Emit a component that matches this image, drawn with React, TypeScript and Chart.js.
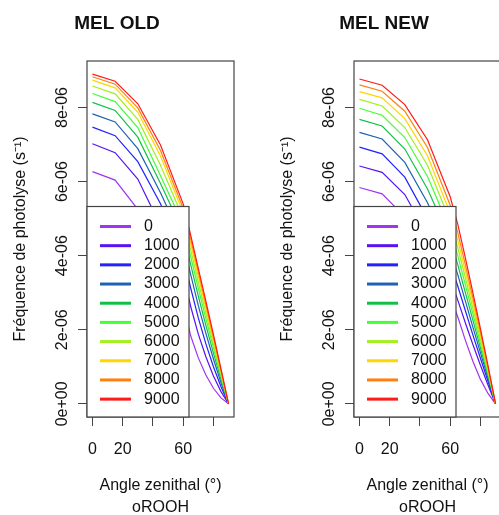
import React, { useEffect, useRef } from "react";
import { Chart, registerables } from "chart.js";

Chart.register(...registerables);

// ---------- data (photolysis frequency, units of 1e-6 s^-1) ----------
const UNIT = 1e-6;
const ANGLES = [0, 15, 30, 45, 60, 65, 70, 75, 80, 85, 90];
const ALTITUDES = ["0", "1000", "2000", "3000", "4000", "5000", "6000", "7000", "8000", "9000"];
const PANEL_TITLES = ["MEL OLD", "MEL NEW"];

const OLD_0 = [6.27, 6.04, 5.25, 4.1, 2.7, 1.83, 1.24, 0.78, 0.42, 0.16, 0];
const OLD_1000 = [7.02, 6.78, 6.07, 4.81, 3.55, 2.62, 1.88, 1.27, 0.75, 0.33, 0];
const OLD_2000 = [7.47, 7.24, 6.54, 5.4, 4.03, 3.12, 2.32, 1.62, 1.0, 0.46, 0];
const OLD_3000 = [7.83, 7.61, 6.89, 5.7, 4.37, 3.48, 2.65, 1.9, 1.21, 0.57, 0];
const OLD_4000 = [8.14, 7.92, 7.2, 5.95, 4.63, 3.75, 2.91, 2.12, 1.37, 0.66, 0];
const OLD_5000 = [8.38, 8.16, 7.46, 6.16, 4.84, 3.97, 3.12, 2.3, 1.51, 0.74, 0];
const OLD_6000 = [8.58, 8.37, 7.68, 6.44, 5.01, 4.15, 3.29, 2.45, 1.62, 0.8, 0];
const OLD_7000 = [8.74, 8.53, 7.87, 6.69, 5.16, 4.31, 3.44, 2.58, 1.72, 0.86, 0];
const OLD_8000 = [8.83, 8.63, 7.99, 6.84, 5.28, 4.44, 3.56, 2.68, 1.8, 0.9, 0];
const OLD_9000 = [8.9, 8.71, 8.1, 6.99, 5.4, 4.55, 3.66, 2.77, 1.87, 0.94, 0];

const NEW_0 = [5.84, 5.67, 5.05, 3.98, 2.9, 2.35, 1.72, 1.15, 0.66, 0.28, 0];
const NEW_1000 = [6.42, 6.25, 5.65, 4.55, 3.4, 2.8, 2.19, 1.6, 1.04, 0.51, 0];
const NEW_2000 = [6.93, 6.75, 6.12, 5.0, 3.81, 3.18, 2.52, 1.86, 1.23, 0.61, 0];
const NEW_3000 = [7.33, 7.15, 6.52, 5.43, 4.15, 3.49, 2.78, 2.07, 1.38, 0.69, 0];
const NEW_4000 = [7.68, 7.5, 6.88, 5.8, 4.44, 3.76, 3.01, 2.26, 1.51, 0.76, 0];
const NEW_5000 = [7.98, 7.79, 7.19, 6.14, 4.7, 4.0, 3.22, 2.43, 1.63, 0.82, 0];
const NEW_6000 = [8.22, 8.04, 7.46, 6.44, 4.93, 4.22, 3.41, 2.58, 1.74, 0.88, 0];
const NEW_7000 = [8.43, 8.26, 7.7, 6.7, 5.15, 4.42, 3.58, 2.72, 1.84, 0.93, 0];
const NEW_8000 = [8.61, 8.44, 7.9, 6.92, 5.36, 4.62, 3.76, 2.86, 1.94, 0.98, 0];
const NEW_9000 = [8.77, 8.6, 8.08, 7.13, 5.59, 4.85, 3.95, 3.0, 2.03, 1.03, 0];

const OLD_SERIES = [OLD_0, OLD_1000, OLD_2000, OLD_3000, OLD_4000, OLD_5000, OLD_6000, OLD_7000, OLD_8000, OLD_9000];
const NEW_SERIES = [NEW_0, NEW_1000, NEW_2000, NEW_3000, NEW_4000, NEW_5000, NEW_6000, NEW_7000, NEW_8000, NEW_9000];

const X_TICKS = [0, 20, 40, 60, 80];
const X_TICK_LABELS = ["0", "20", "", "60", ""];
const Y_TICKS = [0, 2e-6, 4e-6, 6e-6, 8e-6];
const Y_TICK_LABELS = ["0e+00", "2e-06", "4e-06", "6e-06", "8e-06"];

const X_TITLE = ["Angle zenithal (°)", "oROOH"];
const Y_TITLE = "Fréquence de photolyse (s⁻¹)";

// ---------- styles ----------
const COLORS = [
  "#A034F0",
  "#5512F2",
  "#2222FF",
  "#1F62B2",
  "#12C046",
  "#44FF33",
  "#A2F01E",
  "#FFD600",
  "#FF8010",
  "#FF1A1A",
];
const FONT = "'Liberation Sans', Arial, Helvetica, sans-serif";
const TEXT = "#111";
const AXIS = "#444";

// axis ranges extended by 4% like R
const allVals = [...OLD_SERIES, ...NEW_SERIES].flat();
const yMaxData = Math.max(...allVals) * UNIT;
const Y_MIN = -0.04 * yMaxData;
const Y_MAX = yMaxData * 1.04;
const xSpan = Math.max(...ANGLES) - Math.min(...ANGLES);
const X_MIN = Math.min(...ANGLES) - 0.04 * xSpan;
const X_MAX = Math.max(...ANGLES) + 0.04 * xSpan;

const frameAndLegend = {
  id: "frameAndLegend",
  afterDatasetsDraw(chart: any) {
    const { ctx, chartArea: a } = chart;
    ctx.save();
    ctx.strokeStyle = AXIS;
    ctx.lineWidth = 1.2;
    ctx.strokeRect(a.left, a.top, a.right - a.left, a.bottom - a.top);

    // inset legend (bottom-left)
    const lx = a.left;
    const lw = 102;
    const ly = a.bottom - 210.5;
    const lh = a.bottom - ly;
    ctx.fillStyle = "#fff";
    ctx.fillRect(lx, ly, lw, lh);
    ctx.strokeStyle = AXIS;
    ctx.lineWidth = 1.2;
    ctx.strokeRect(lx, ly, lw, lh);
    ctx.font = `16px ${FONT}`;
    ctx.textBaseline = "middle";
    ctx.textAlign = "left";
    chart.data.datasets.forEach((ds: any, i: number) => {
      const y = ly + 20 + i * 19.18;
      ctx.strokeStyle = ds.borderColor;
      ctx.lineWidth = 3;
      ctx.beginPath();
      ctx.moveTo(lx + 13, y);
      ctx.lineTo(lx + 44, y);
      ctx.stroke();
      ctx.fillStyle = TEXT;
      ctx.fillText(ds.label, lx + 57, y);
    });
    ctx.restore();
  },
};

function Panel({ title, series, left }: { title: string; series: number[][]; left: number }) {
  const ref = useRef<HTMLCanvasElement>(null);
  useEffect(() => {
    const chart = new Chart(ref.current as HTMLCanvasElement, {
      type: "line",
      data: {
        datasets: series.map((vals, i) => ({
          label: ALTITUDES[i],
          data: ANGLES.map((a, j) => ({ x: a, y: vals[j] * UNIT })),
          borderColor: COLORS[i],
          backgroundColor: COLORS[i],
          borderWidth: 1.2,
          pointRadius: 0,
          tension: 0,
          fill: false,
          order: series.length - 1 - i,
        })),
      },
      options: {
        responsive: false,
        animation: false,
        devicePixelRatio: 1,
        layout: { padding: { left: 0, right: 33, top: 0, bottom: 0 } },
        plugins: {
          legend: { display: false },
          tooltip: { enabled: false },
          title: {
            display: true,
            text: title,
            color: TEXT,
            font: { family: FONT, size: 19, weight: "bold", lineHeight: 1.2 },
            padding: { top: 12, bottom: 26.2 },
          },
        },
        scales: {
          x: {
            type: "linear",
            min: X_MIN,
            max: X_MAX,
            afterBuildTicks: (s: any) => {
              s.ticks = X_TICKS.map((v) => ({ value: v }));
            },
            afterFit: (s: any) => {
              s.height = 98;
            },
            grid: { drawOnChartArea: false, drawTicks: true, tickLength: 9, color: AXIS, tickColor: AXIS, lineWidth: 1 },
            border: { display: false },
            ticks: {
              autoSkip: false,
              minRotation: 0,
              maxRotation: 0,
              padding: 14.4,
              color: TEXT,
              font: { family: FONT, size: 16 },
              callback: (_v: any, i: number) => X_TICK_LABELS[i],
            },
            title: {
              display: true,
              text: X_TITLE,
              color: TEXT,
              font: { family: FONT, size: 16, lineHeight: 1.33 },
              padding: { top: 0, bottom: -2.8 },
            },
          },
          y: {
            type: "linear",
            min: Y_MIN,
            max: Y_MAX,
            afterBuildTicks: (s: any) => {
              s.ticks = Y_TICKS.map((v) => ({ value: v }));
            },
            afterFit: (s: any) => {
              s.width = 87;
            },
            grid: { drawOnChartArea: false, drawTicks: true, tickLength: 9, color: AXIS, tickColor: AXIS, lineWidth: 1 },
            border: { display: false },
            ticks: {
              autoSkip: false,
              minRotation: 90,
              maxRotation: 90,
              crossAlign: "center",
              padding: -7.25,
              color: TEXT,
              font: { family: FONT, size: 16 },
              callback: (_v: any, i: number) => Y_TICK_LABELS[i],
            },
            title: {
              display: true,
              text: Y_TITLE,
              color: TEXT,
              font: { family: FONT, size: 16, lineHeight: 1.2 },
              padding: { top: 11, bottom: 0 },
            },
          },
        },
      } as any,
      plugins: [frameAndLegend],
    });
    return () => chart.destroy();
  }, [title, series]);
  return (
    <canvas
      ref={ref}
      width={267}
      height={515}
      style={{ position: "absolute", left, top: 0, width: 267, height: 515 }}
    />
  );
}

export default function App() {
  return (
    <div
      style={{
        position: "absolute",
        left: 0,
        top: 0,
        width: 499,
        height: 515,
        overflow: "hidden",
        background: "#fff",
      }}
    >
      <Panel title={PANEL_TITLES[0]} series={OLD_SERIES} left={0} />
      <Panel title={PANEL_TITLES[1]} series={NEW_SERIES} left={267} />
    </div>
  );
}
